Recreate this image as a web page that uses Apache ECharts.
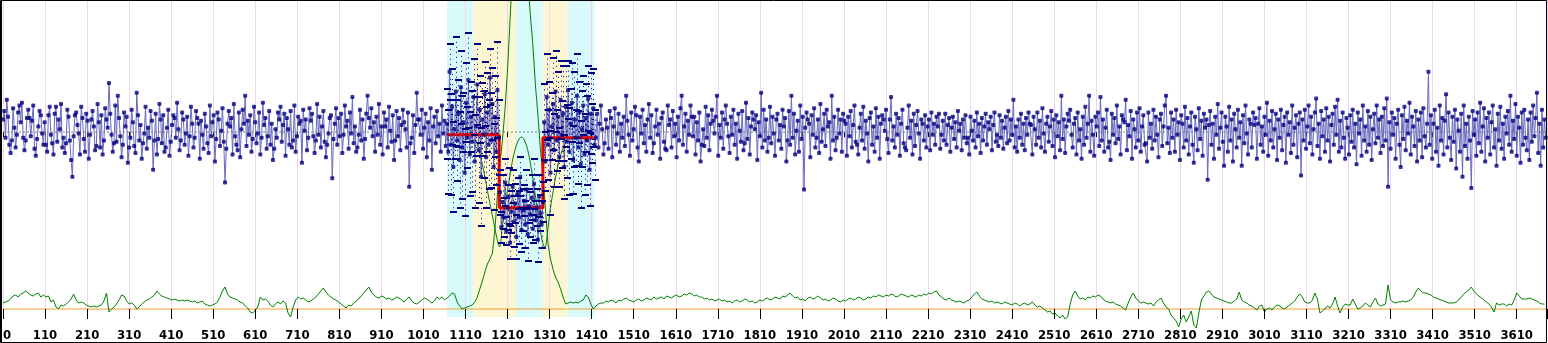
<!DOCTYPE html>
<html><head><meta charset="utf-8">
<script src="https://cdn.jsdelivr.net/npm/echarts@6/dist/echarts.min.js"></script>
<style>html,body{margin:0;padding:0;background:#fff}#c{width:1548px;height:343px}</style>
</head><body><div id="c"></div>
<script>
// ---------- data ----------
const xMin = 0, xMax = 3672, xTickStep = 100, labelOffset = 10;
const blueStep = 3;
const bluePreStart = 0, blueBandStart = 1056, bluePostStart = 1410;
const bluePre = [
9,15,-4,23,11,-9,-15,-6,17,3,-11,-2,14,19,7,21,-4,-13,-6,10,
16,10,-3,8,19,-12,-17,-5,4,15,12,-1,-9,7,-9,-14,12,18,-2,-8,
-16,13,18,-7,9,2,20,-11,-4,-15,-8,16,11,-6,-20,-32,-3,12,14,5,
-1,-16,18,10,-5,-14,13,8,-19,-2,9,15,4,-13,-10,20,7,-11,12,-16,
-6,17,9,3,35,13,-2,-14,-8,19,-7,26,10,-3,-18,-9,14,4,11,-22,
-11,-4,16,7,-10,-15,28,12,-6,5,-19,-8,-1,18,-12,3,-4,15,8,-27,
-6,13,-16,-5,20,9,-8,12,-14,-11,3,16,-17,-7,5,12,10,-4,21,2,
-13,-6,14,9,-9,-1,11,-17,-3,18,6,-11,-4,15,10,6,-19,8,-2,-12,
13,4,-8,-15,19,-3,7,12,-21,-5,14,9,-10,1,17,-7,-36,-12,6,15,
4,10,-16,20,-3,-9,-13,14,-18,2,16,6,26,-10,8,-2,12,-14,-5,18,
7,-8,-1,14,-16,-4,21,5,10,-12,-3,15,-9,6,-20,-12,2,-4,14,9,
18,-7,5,13,-17,10,2,-9,15,-11,-6,19,-14,-3,11,6,8,-22,16,1,
9,-13,-4,17,8,13,-3,-15,-6,20,-2,11,-11,4,15,-7,-18,-9,-1,10,
12,-33,-5,6,17,-9,10,-3,13,-15,-2,19,4,8,-12,14,-1,25,-8,4,
-14,-11,-2,16,-6,9,-19,-5,13,26,10,3,17,-3,7,-14,11,-2,20,-9,
4,-16,14,4,9,-11,18,1,-7,12,-20,-6,15,-3,10,-13,5,16,7,2,
-11,14,-39,-8,-4,12,-15,5,28,9,9,-2,16,-12,3,13,-18,7,-6,17,
-27,4,11,-8,15,-3,6,-14,19,-1,8,-10];
const blueBand = [
6,-14,43,-9,18,-25,2,29,-6,13,-20,32,-11,7,-29,21,-4,37,-16,11,
-7,25,-21,4,34,-13,16,-32,9,-2,27,-18,14,-9,39,-6,20,-25,11,-14,30,-4,
-43,-68,-50,-61,-36,-71,-54,-46,-79,-57,-39,-64,-51,-75,-44,-61,-32,-70,-56,-49,
-66,-41,-73,-53,-59,-47,-69,-37,-63,-54,-77,-46,-58,-66,-50,
7,-21,25,-9,16,-29,4,20,-13,29,-6,11,-18,23,-2,13,-25,18,-7,30,
-14,6,21,-20,9,-4,26,-11,14,-23,2,19,-16,10,-6,24,-27,13,-1,17,-9];
const bandErr = [
25,30,20,36,27,32,21,39,29,24,34,26,37,21,31,28,22,34,30,25,
36,27,33,21,29,38,24,35,26,31,23,36,28,32,20,34,26,31,29,24,34,27,
16,11,19,14,17,10,16,20,12,15,12,18,14,16,11,19,14,16,15,11,
17,14,19,12,16,16,10,18,14,13,16,15,13,17,14,
27,21,31,25,20,30,24,33,26,29,22,32,21,28,24,34,23,29,26,21,
31,25,28,24,34,20,30,26,22,31,27,21,29,24,32,23,26,29,21,28,25];
const bluePost = [
-4,13,-11,6,19,2,-16,-8,9,3,-12,15,10,-18,4,17,-9,-1,13,-14,
6,-4,11,-10,26,8,-2,-17,14,-6,2,18,12,-11,-21,11,-1,16,-8,5,
-14,9,20,-4,12,-15,-8,4,16,-2,6,-19,10,14,-7,-12,-13,19,5,9,
-11,15,-3,6,-18,11,-6,17,26,-9,4,13,-14,8,-2,19,11,-3,11,-16,
7,-6,14,-21,-9,2,-10,18,-4,12,-13,6,16,8,-1,11,26,-17,5,-4,
14,-12,9,19,6,-3,-15,11,-2,16,-9,6,-19,13,1,-7,15,-13,-8,21,
-5,10,-16,4,14,9,2,12,-20,7,-3,28,-11,16,-6,9,-14,-4,18,-8,
11,-1,-17,9,13,-6,5,-12,16,4,10,-21,-6,15,-9,26,-4,13,-16,1,
8,-14,19,-5,11,-41,3,14,9,6,-18,12,-2,17,-11,-4,9,-15,20,-7,
2,13,-10,16,4,7,-19,26,-6,11,-13,-4,16,-1,9,-14,13,8,6,-17,
11,-3,15,-11,5,19,-7,-9,-16,3,13,-6,18,-12,8,-1,-21,10,14,-9,
4,-14,17,-4,11,-19,6,12,9,1,16,-5,-15,9,25,-6,4,-11,13,-2,
10,-17,6,16,-8,-11,-13,3,19,-4,8,-16,13,-10,5,15,-1,-19,9,6,
-6,12,-11,4,9,-13,14,-2,6,-9,11,4,13,-12,-2,8,-6,13,-9,5,
10,-14,3,11,-5,7,-11,15,1,6,-13,9,-4,12,-8,-4,-16,11,1,-6,
8,-11,14,-3,6,-15,10,-6,4,13,-9,7,2,11,-13,5,14,-7,-2,-10,
12,-4,8,-12,3,11,-8,15,-6,9,-2,23,-11,4,-14,9,-4,13,-9,6,
-13,10,-2,14,6,5,-16,11,2,-9,14,-4,8,-11,17,-1,-14,6,11,-7,
4,15,-10,9,-18,12,-3,7,-13,26,-5,9,-15,4,13,8,16,-2,-11,6,
10,-16,14,-6,2,-19,11,-9,18,-4,6,26,-14,8,-2,-17,11,4,14,-10,
25,-6,9,-14,3,16,-11,-7,-20,13,-2,10,-8,19,-5,4,-16,12,9,7,
23,-13,5,-3,15,-19,9,2,-11,14,-6,17,-14,4,12,-9,-8,-21,14,-4,
6,-12,16,-6,11,-2,-18,9,13,-10,4,19,26,-8,3,-15,14,-4,9,-14,
16,-2,7,-20,12,6,-11,18,-6,10,-16,4,14,-9,-22,11,2,-13,17,-5,
8,-17,13,3,9,-34,5,15,-9,6,-19,11,-2,20,-12,3,14,-7,-24,11,
4,-14,18,-6,9,-21,13,2,-11,16,-4,7,-24,12,-8,19,-1,-16,9,6,
-11,14,5,10,-19,6,17,-9,4,-14,11,-2,21,-17,8,-6,15,-11,2,13,
-20,9,-4,16,-13,5,11,-22,14,-2,7,-15,19,-9,3,12,-18,6,14,-31,
9,-6,16,-12,4,19,-8,11,-16,2,14,24,-10,6,-19,15,-3,9,-14,17,
-6,11,-21,5,13,-9,18,-2,23,-14,8,-11,14,-4,-19,10,3,-16,12,-7,
16,-11,6,-23,14,-1,9,-17,19,-6,4,-14,15,-9,11,-20,2,13,-8,19,
-4,9,-15,11,-10,17,-6,24,-39,7,-12,14,-2,10,-19,6,16,-9,-25,12,
-5,18,-13,8,-1,21,-16,11,4,-10,15,-21,9,-6,14,-18,17,-3,-11,6,
43,-9,12,-19,6,16,-14,3,-24,19,-6,10,-16,8,27,-11,14,-4,-20,11,
-7,16,-26,9,1,-14,13,-32,19,-10,6,-19,11,-6,-40,15,-2,9,-17,14,
-8,21,-14,4,17,-21,10,-4,14,-16,7,19,-11,2,-24,13,-6,18,-12,6,
-19,11,-1,15,-9,26,-14,8,-5,20,-17,11,3,-22,14,-9,16,-4,-13,9,
-20,14,-7,19,-3,10,28,-15,6,-24,16,-11,9,-4];

const greenStep = 6;
const greenValues = [
6,7,8,10,13,14,12,15,16,18,16,14,13,15,16,12,14,12,13,7,
9,2,0,4,3,5,7,10,15,9,6,7,6,4,3,2,3,2,3,4,
8,16,-3,0,2,5,9,14,13,8,5,6,4,0,2,5,7,9,10,12,
14,18,15,13,12,11,10,9,10,9,8,9,8,9,8,7,8,6,7,8,
5,4,3,4,5,7,12,18,22,15,12,11,10,9,7,6,3,1,-3,-4,
-1,2,12,9,10,8,4,2,5,7,5,8,6,-4,-8,2,9,12,10,
11,9,7,8,10,12,15,18,21,17,14,12,10,9,7,5,3,1,4,3,
6,8,10,13,16,19,22,17,14,12,11,13,12,10,11,9,10,12,11,9,
7,10,12,8,6,5,7,9,11,10,8,6,8,12,10,12,9,11,
13,16,15,7,3,0,1,2,3,4,
7,12,20,28,37,45,50,56,80,115,145,170,200,240,290,340,400,440,460,450,
400,330,295,265,225,195,160,135,100,66,50,40,32,27,20,12,5,6,7,6,
7,6,8,9,14,12,5,0,3,5,6,
6,8,7,9,8,6,9,8,10,11,9,8,7,9,10,8,9,11,10,9,
12,10,11,12,10,13,12,11,13,14,12,13,15,14,16,15,13,14,12,12,
10,11,9,10,8,9,10,8,9,7,8,6,8,9,7,8,10,9,7,8,
6,7,9,8,10,11,9,10,12,11,10,13,12,14,16,13,11,12,9,10,
8,11,12,10,11,13,11,9,10,8,9,11,10,8,7,9,8,10,11,9,
10,12,11,9,10,12,11,13,12,14,13,12,14,13,15,14,12,13,15,14,
13,12,14,13,12,14,13,15,14,16,15,17,18,14,12,10,9,11,9,8,
7,8,7,6,8,9,12,15,17,13,10,9,8,7,8,6,7,6,5,7,
6,5,4,6,5,3,5,6,4,5,7,4,2,3,1,-1,-3,-2,-5,-4,
-7,-9,-6,-10,-8,5,14,18,13,10,11,9,12,11,13,12,14,13,10,8,
7,6,7,5,4,3,1,-1,6,12,16,11,8,6,7,6,5,6,3,7,
9,11,6,2,0,-6,-9,-12,-18,-10,-6,-13,-8,-2,-16,-19,-4,9,13,17,
18,15,12,11,10,9,8,7,6,6,8,10,17,9,7,6,4,3,1,-1,
3,4,-3,0,1,-1,2,4,3,1,0,2,4,6,8,12,15,12,7,6,
6,9,16,10,-4,-2,0,3,1,5,12,3,-4,2,5,4,4,10,5,0,
1,3,6,4,2,7,11,5,3,4,5,24,9,7,6,7,7,8,7,8,
9,12,17,21,18,16,16,15,14,12,11,10,9,8,7,6,6,6,7,9,
12,15,17,19,22,18,15,13,11,9,7,5,2,-3,6,4,5,5,3,5,
4,9,16,13,10,10,10,11,10,9,8,6,5,5];

// second green statistic curve inside the analysed window
const wX = [1125,1135,1145,1155,1165,1172,1178,1181,1188,1196,1205,1213,1222,1229,1234,1240,1248,1257,1266,1275,1282,1289,1295,1302,1311,1320,1330,1340];
const wY = [169,154,134,112,91,76,65,62,84,109,132,151,165,171,172,169,159,139,114,87,69,61,77,101,124,144,159,169];

// segment means (step line)
const redX = [1056,1180,1180,1284,1284,1405];
const redY = [-2,-2,-54,-54,-4,-4];

// shaded windows
const bandEdges = [1056,1119,1220,1284,1343,1407];
const bandKinds = [0,1,0,1,0]; // 0 = cyan, 1 = yellow

const meanLevel = 0, greenBase = 0;

// ---------- build ----------
const blueData = [];
bluePre.forEach((v,i)=>blueData.push([bluePreStart+i*blueStep, v]));
blueBand.forEach((v,i)=>blueData.push([blueBandStart+i*blueStep, v]));
bluePost.forEach((v,i)=>blueData.push([bluePostStart+i*blueStep, v]));
const errData = blueBand.map((v,i)=>[blueBandStart+i*blueStep, v, bandErr[i]]);
const greenData = greenValues.map((v,i)=>[i*greenStep, v]);
const wData = wX.map((x,i)=>[x, wY[i]]);
const redData = redX.map((x,i)=>[x, redY[i]]);
const bandData = bandKinds.map((k,i)=>[bandEdges[i], bandEdges[i+1], k]);
const bandColors = ['#d8fafa','#fcf6d2'];
const NAVY = '#000080';

const chart = echarts.init(document.getElementById('c'), null, {renderer:'canvas'});
chart.setOption({
  animation:false,
  backgroundColor:'#ffffff',
  grid:{left:0, right:1, top:0, bottom:26},
  xAxis:[{
    type:'value', min:xMin, max:xMax, interval:xTickStep, position:'bottom', offset:6,
    axisLine:{show:false},
    axisTick:{show:true, length:5, lineStyle:{color:'#000', width:1}},
    axisLabel:{show:true, margin:6, color:'#000', fontWeight:'bold', fontSize:13,
      fontFamily:"'Liberation Sans Narrow','DejaVu Sans Condensed',sans-serif",
      showMaxLabel:false, alignMinLabel:'left',
      formatter:v=> v===0 ? '0' : String(v+labelOffset)},
    splitLine:{show:true, lineStyle:{color:'#f0d4f0', width:1}}
  },{
    type:'value', min:xMin, max:xMax, interval:xTickStep, position:'top', z:3,
    axisLine:{show:false},
    axisTick:{show:true, inside:true, length:10, lineStyle:{color:'#000', width:1}},
    axisLabel:{show:false}, splitLine:{show:false}
  }],
  yAxis:[
    {type:'value', min:-132.1, max:94.3, show:false, splitLine:{show:false}},
    {type:'value', min:-8, max:309, show:false, splitLine:{show:false}}
  ],
  series:[
    {type:'custom', name:'bands', z:-1, silent:true, data:bandData,
      encode:{x:[0,1]},
      renderItem:(params, api)=>{
        const p0 = api.coord([api.value(0), 0]);
        const p1 = api.coord([api.value(1), 0]);
        const cs = params.coordSys;
        return {type:'rect', shape:{x:p0[0], y:cs.y, width:p1[0]-p0[0], height:cs.height},
          style:{fill:bandColors[api.value(2)]}};
      }},
    {type:'line', name:'base', yAxisIndex:1, data:[[xMin,greenBase],[xMax,greenBase]], symbol:'none', z:1,
      lineStyle:{color:'#f0a030', width:1}},
    {type:'line', name:'mean', yAxisIndex:0, data:[[xMin,meanLevel],[xMax,meanLevel]], symbol:'none', z:1,
      lineStyle:{color:'#808080', width:1, type:[2,2]}},
    {type:'line', name:'green', yAxisIndex:1, data:greenData, symbol:'none', clip:false, z:2,
      lineStyle:{color:'#008000', width:1}},
    {type:'line', name:'stat', yAxisIndex:1, data:wData, symbol:'none', smooth:0.3, z:2,
      lineStyle:{color:'#008000', width:1}},
    {type:'line', name:'blue', yAxisIndex:0, data:blueData, symbol:'none', z:3,
      lineStyle:{color:'#6a6abf', width:1}},
    {type:'line', name:'segments', yAxisIndex:0, data:redData, symbol:'none', z:4,
      lineStyle:{color:'#ee0000', width:3}},
    {type:'scatter', name:'bluePts', yAxisIndex:0, data:blueData, symbol:'roundRect', symbolSize:4, z:5,
      itemStyle:{color:NAVY}},
    {type:'custom', name:'err', yAxisIndex:0, z:6, data:errData, encode:{x:0, y:1},
      renderItem:(params, api)=>{
        const x = api.value(0), y = api.value(1), e = api.value(2);
        const t = api.coord([x, y+e]);
        const b = api.coord([x, y-e]);
        return {type:'group', children:[
          {type:'line', shape:{x1:Math.round(t[0])+0.5, y1:t[1], x2:Math.round(b[0])+0.5, y2:b[1]},
            style:{stroke:NAVY, lineWidth:1, lineDash:[1,4]}},
          {type:'rect', shape:{x:Math.round(t[0])-3, y:Math.round(t[1])-1, width:7, height:2}, style:{fill:NAVY}},
          {type:'rect', shape:{x:Math.round(b[0])-3, y:Math.round(b[1])-1, width:7, height:2}, style:{fill:NAVY}}
        ]};
      }}
  ],
  graphic:[
    {type:'rect', silent:true, z:100, shape:{x:0.5, y:0.5, width:1546, height:342},
      style:{fill:null, stroke:'#000', lineWidth:1}},
    {type:'line', silent:true, z:100, shape:{x1:1.5, y1:0, x2:1.5, y2:343},
      style:{stroke:'#000', lineWidth:1}}
  ]
});
</script></body></html>
